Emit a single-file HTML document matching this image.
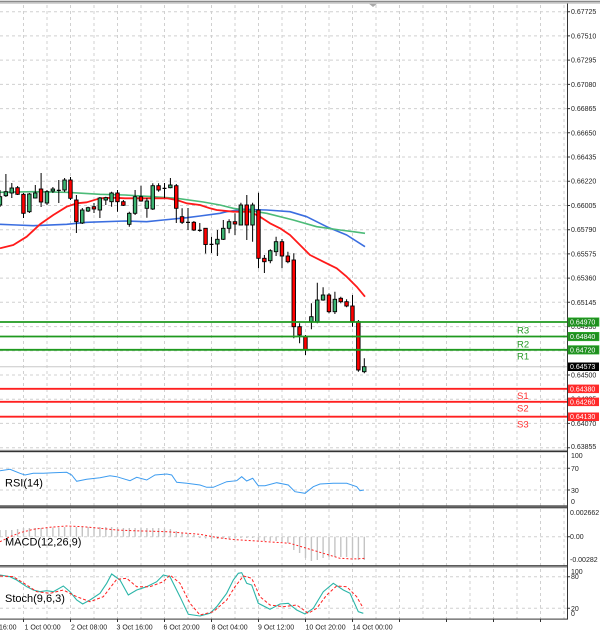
<!DOCTYPE html>
<html><head><meta charset="utf-8"><style>
html,body{margin:0;padding:0;background:#fff;}
svg{display:block;}
text{font-family:"Liberation Sans",sans-serif;}
</style></head><body>
<svg width="600" height="635" viewBox="0 0 600 635" xmlns="http://www.w3.org/2000/svg">
<rect x="0" y="0" width="600" height="635" fill="#fff"/>
<!-- grid -->
<g stroke="#d0d0d0" stroke-width="1" stroke-dasharray="3,3" fill="none">
<path d="M23.5 5V619M47 5V619M70.5 5V619M94 5V619M117.5 5V619M141 5V619M164.5 5V619M188 5V619M211.5 5V619M235 5V619M258.5 5V619M282 5V619M305.5 5V619M329 5V619M352.5 5V619M376 5V619M399.5 5V619M423 5V619M446.5 5V619M470 5V619M493.5 5V619M517 5V619M540.5 5V619M564 5V619"/>
<path d="M0 11.7H567M0 35.9H567M0 60.1H567M0 84.4H567M0 108.6H567M0 132.8H567M0 157H567M0 181.2H567M0 205.5H567M0 229.7H567M0 253.9H567M0 278.1H567M0 302.3H567M0 326.6H567M0 350.8H567M0 375H567M0 399.2H567M0 423.4H567M0 447.7H567"/>
<path d="M0 468.3H567M0 490H567M0 536.7H567M0 576.7H567M0 608.3H567"/>
</g>
<!-- current price line -->
<line x1="0" y1="366.7" x2="567" y2="366.7" stroke="#c8c8c8" stroke-width="1"/>
<!-- MAs -->
<g fill="none" stroke-width="1.6" stroke-linejoin="round">
<polyline stroke="#3b6ee0" points="0,224.3 16.7,225 33.3,225.7 66.7,224.3 86.7,222.3 125,221 146.7,221.7 163.3,220 186.7,217.7 200,216 220,213.3 226.7,211.7 243.3,209.3 266.7,210 290,211.7 306.7,216.7 326.7,226.7 346.7,235 365,246.7"/>
<polyline stroke="#4cbb78" points="0,192.3 33.3,191.7 66.7,192.3 100,194.3 125,195 153.3,196.7 176.7,198.3 203.3,202 220,205 233.3,208.3 245,210 266.7,213.3 293.3,220 316.7,226.7 340,230 353.3,231.7 365,233.3"/>
<polyline stroke="#ff1a1a" stroke-width="1.8" points="0,248.3 13.3,245 26.7,236.7 40,224.3 53.3,215 66.7,206.7 76.7,203.3 86.7,202.3 100,198.3 113.3,197.7 125,198.3 136.7,198.3 153.3,198.3 166.7,198.3 176.7,200 186.7,203.3 200,205 210,208.3 216.7,210 233.3,211.7 250,211.7 260,216.7 270,223.3 280,228.3 290,235 300,245 310,255 323.3,261.7 336.7,268.3 346.7,276.7 356.7,286.7 365,296.7"/>
</g>
<!-- candles wicks -->
<g stroke="#000" stroke-width="1">
<path d="M0 190V207M5.9 174V197M11.8 183V198M17.6 186V195M23.5 193V218M29.4 193V213M35.3 185V198.5M41.1 173V207M47 190V205M52.9 187V193M58.8 180V203M64.6 178V192M70.5 177V200M76.4 195V233M82.3 208V224M88.1 206.7V212M94 203V213M99.9 197V218M105.8 196.7V205M111.6 191.7V206.7M117.5 190V211.7M123.4 200V206M129.3 211.7V226.7M135.1 190V215M141 185.7V201.7M146.9 198V217.7M152.8 183.3V210M158.6 183.3V191.7M164.5 183V198M170.4 178V188.3M176.3 184V223M182.1 208.3V224M188 208V230M193.9 221V231M199.8 223V231.7M205.6 228V253.5M211.5 236.7V253M217.4 230V256M223.3 220V240M229.1 219.3V233.3M235 213.3V235M240.9 202.7V225M246.8 195V240M252.6 202.7V241.7M258.5 192.7V268.3M264.4 255V273M270.3 249.3V263.3M276.1 236.7V256M282 239V268.3M287.9 251.7V263.3M293.8 253.3V338.3M299.6 323.3V343.3M305.5 335V355M311.4 303.3V329.3M317.3 282.7V323.3M323.1 287.3V300.7M329 293.3V313.3M334.9 291.7V314M340.8 296.7V303.3M346.6 299.3V307.3M352.5 295V326.7M358.4 320V371.7M364.3 358.3V373.3"/>
</g>
<!-- candle bodies -->
<g stroke="#000" stroke-width="0.9">
<g fill="#3cb371">
<rect x="-1.8" y="196.7" width="3.5" height="8.3"/>
<rect x="4.1" y="191.7" width="3.5" height="4"/>
<rect x="10" y="188" width="3.5" height="5"/>
<rect x="27.6" y="194" width="3.5" height="17.7"/>
<rect x="33.5" y="193" width="3.5" height="5"/>
<rect x="45.2" y="191.7" width="3.5" height="11.3"/>
<rect x="51.1" y="189" width="3.5" height="2"/>
<rect x="62.8" y="180" width="3.5" height="10"/>
<rect x="80.5" y="210" width="3.5" height="13"/>
<rect x="86.3" y="207.7" width="3.5" height="3.3"/>
<rect x="98.1" y="198" width="3.5" height="12"/>
<rect x="104" y="197.7" width="3.5" height="2.3"/>
<rect x="109.8" y="193" width="3.5" height="8.7"/>
<rect x="127.5" y="213.3" width="3.5" height="11"/>
<rect x="133.3" y="196.7" width="3.5" height="16.6"/>
<rect x="145.1" y="201" width="3.5" height="7.3"/>
<rect x="151" y="185.7" width="3.5" height="23.3"/>
<rect x="168.6" y="185" width="3.5" height="2.7"/>
<rect x="215.6" y="239.3" width="3.5" height="4.7"/>
<rect x="221.5" y="228.3" width="3.5" height="11"/>
<rect x="227.3" y="221.7" width="3.5" height="6.6"/>
<rect x="239.1" y="205" width="3.5" height="20"/>
<rect x="250.8" y="205" width="3.5" height="20"/>
<rect x="268.5" y="250.7" width="3.5" height="10"/>
<rect x="274.3" y="241.7" width="3.5" height="10"/>
<rect x="309.6" y="316.7" width="3.5" height="5"/>
<rect x="315.5" y="300" width="3.5" height="21.7"/>
<rect x="321.3" y="295" width="3.5" height="5"/>
<rect x="333.1" y="299.3" width="3.5" height="12.4"/>
<rect x="362.5" y="366.7" width="3.5" height="5"/>
</g>
<g fill="#ff0000">
<rect x="15.8" y="187.7" width="3.5" height="6.6"/>
<rect x="21.7" y="194.3" width="3.5" height="19"/>
<rect x="39.3" y="189" width="3.5" height="13"/>
<rect x="68.7" y="180" width="3.5" height="18.3"/>
<rect x="74.6" y="200" width="3.5" height="21.7"/>
<rect x="92.2" y="206.7" width="3.5" height="2.3"/>
<rect x="115.7" y="193" width="3.5" height="8.7"/>
<rect x="121.6" y="201.7" width="3.5" height="3.6"/>
<rect x="139.2" y="196.7" width="3.5" height="4.3"/>
<rect x="156.8" y="185.7" width="3.5" height="4.3"/>
<rect x="174.5" y="185.7" width="3.5" height="22.6"/>
<rect x="180.3" y="216.7" width="3.5" height="5.6"/>
<rect x="192.1" y="222.3" width="3.5" height="7.7"/>
<rect x="203.8" y="228.3" width="3.5" height="16.2"/>
<rect x="233.2" y="221.7" width="3.5" height="2.3"/>
<rect x="245" y="205" width="3.5" height="20"/>
<rect x="256.7" y="210" width="3.5" height="48.3"/>
<rect x="262.6" y="258.3" width="3.5" height="3.4"/>
<rect x="280.2" y="241.7" width="3.5" height="14.3"/>
<rect x="286.1" y="256" width="3.5" height="5.7"/>
<rect x="292" y="260" width="3.5" height="66.7"/>
<rect x="297.8" y="326.7" width="3.5" height="8.3"/>
<rect x="303.7" y="336.7" width="3.5" height="13.3"/>
<rect x="327.2" y="295" width="3.5" height="16.7"/>
<rect x="339" y="298.3" width="3.5" height="3.4"/>
<rect x="344.8" y="301.7" width="3.5" height="4.3"/>
<rect x="350.7" y="306" width="3.5" height="15.7"/>
<rect x="356.6" y="321.7" width="3.5" height="48.3"/>
</g>
</g>
<!-- dojis -->
<g stroke="#000" stroke-width="1.2">
<path d="M56.8 190.4H60.8M162.5 188.4H166.5M186 222.4H190M197.8 230.4H201.8M209.5 244.4H213.5"/>
</g>
<!-- S/R lines -->
<g stroke-width="1.8">
<line x1="0" y1="322" x2="567" y2="322" stroke="#1f9a1f"/>
<line x1="0" y1="336.5" x2="567" y2="336.5" stroke="#1f9a1f"/>
<line x1="0" y1="349.8" x2="567" y2="349.8" stroke="#1f9a1f"/>
<line x1="0" y1="388.8" x2="567" y2="388.8" stroke="#ff2020"/>
<line x1="0" y1="401.8" x2="567" y2="401.8" stroke="#ff2020"/>
<line x1="0" y1="416.7" x2="567" y2="416.7" stroke="#ff2020"/>
</g>
<g font-size="9.5">
<text x="517" y="333.5" fill="#2a9a2a">R3</text>
<text x="517" y="347.5" fill="#2a9a2a">R2</text>
<text x="517" y="359.5" fill="#2a9a2a">R1</text>
<text x="517" y="399" fill="#ff3030">S1</text>
<text x="517" y="411.5" fill="#ff3030">S2</text>
<text x="517" y="427.5" fill="#ff3030">S3</text>
</g>
<!-- RSI -->
<polyline fill="none" stroke="#3d9cf0" stroke-width="1" points="0,470.7 10,469.3 20,473.3 25,475 33.3,473.3 43.3,473.3 53.3,472.7 66.7,472.3 71.7,475 76.7,481.3 86.7,479.3 100,477.7 110,475.7 116.7,476.7 130,480.7 136.7,477.3 146.7,480 155,475 166.7,474 171.7,475 176.7,482.3 186.7,483.3 200,485 206.7,487.3 213.3,487.3 226.7,481.7 236.7,480.7 241.7,476.7 246.7,481 252.7,478.3 258.3,485.7 265,485.7 276.7,482.7 288.3,485 295,491.7 305,493.3 313.3,486.7 320,484 333.3,483.3 346.7,483.3 356.7,486.7 360,490.7 364,490"/>
<!-- MACD histogram -->
<g stroke="#c4c4c4" stroke-width="1.4">
<path d="M0 536.7V530M5.9 536.7V530M11.8 536.7V530M17.6 536.7V529M23.5 536.7V528M29.4 536.7V528M35.3 536.7V528M41.1 536.7V528M47 536.7V527.5M52.9 536.7V527.5M58.8 536.7V527.5M64.6 536.7V527M70.5 536.7V527M76.4 536.7V527M82.3 536.7V527M88.1 536.7V527M94 536.7V527M99.9 536.7V527M105.8 536.7V527M111.6 536.7V527M117.5 536.7V527.5M123.4 536.7V528M129.3 536.7V528M135.1 536.7V528M141 536.7V528M146.9 536.7V528M152.8 536.7V528M158.6 536.7V528M164.5 536.7V528.5M170.4 536.7V529M176.3 536.7V531M182.1 536.7V533M188 536.7V534M193.9 536.7V535M199.8 536.7V538M205.6 536.7V538.5M211.5 536.7V539M217.4 536.7V539M223.3 536.7V538.5M229.1 536.7V538.5M235 536.7V538.5M240.9 536.7V538M246.8 536.7V538M252.6 536.7V538M258.5 536.7V540M264.4 536.7V541M270.3 536.7V541M276.1 536.7V541M282 536.7V542M287.9 536.7V543M293.8 536.7V550M299.6 536.7V553M305.5 536.7V558M311.4 536.7V561M317.3 536.7V560M323.1 536.7V558M329 536.7V557M334.9 536.7V557M340.8 536.7V557M346.6 536.7V557M352.5 536.7V558M358.4 536.7V560M364.3 536.7V560"/>
</g>
<polyline fill="none" stroke="#ff2020" stroke-width="1" stroke-dasharray="2,2" points="0,541.7 10,536.7 20,532.7 33.3,529.3 50,527.3 66.7,526 83.3,526.7 100,528.3 116.7,530 133.3,530.7 166.7,531.7 200,534.3 216.7,537.5 233.3,539.5 266.7,541.7 290,543.3 306.7,548.3 323.3,553.3 340,558.3 353.3,559 365,558.3"/>
<!-- Stoch -->
<polyline fill="none" stroke="#2bb5a8" stroke-width="1.1" points="0,575 10,576.7 16.7,580 26.7,586.7 33.3,590 40,591.7 46.7,590.7 53.3,591.7 63.3,586 70,591.7 76.7,600 82.7,604 90,600 100,593.3 106.7,583.3 111.7,574 120,580 128.3,595 136.7,590 146.7,586.7 156.7,581.7 163.3,575 170,576.7 180,596.7 188.3,614.3 200,616 210,613.3 216.7,606.7 226.7,593.3 233.3,580 238.3,573.3 241.7,572.7 246.7,583.3 251.7,585 258.3,603.3 270,609.3 280,604 288.3,603.3 296.7,610 305,614 313.3,608.3 323.3,591.7 333.3,583.3 343.3,590 350,593.3 358.3,611.7 363.3,613.3"/>
<polyline fill="none" stroke="#ff2020" stroke-width="1" stroke-dasharray="3,2" points="0,576 13.3,576.7 26.7,585 36.7,591.7 50,593.3 63.3,590 76.7,596.7 90,601.7 103.3,596.7 116.7,579.3 126.7,578.3 136.7,586.7 150,586.7 163.3,581.7 170,575 180,583.3 190,603.3 200,615 213.3,611.7 226.7,600 235,586.7 243.3,576 251.7,578.3 260,596.7 270,605 283.3,606.7 296.7,605 308.3,613.3 316.7,608.3 326.7,595 336.7,586 346.7,586.7 356.7,596.7 363.3,608.3"/>
<!-- borders -->
<rect x="0" y="0" width="600" height="1" fill="#dcdcdc"/>
<rect x="0" y="1" width="600" height="1.3" fill="#8a8a8a"/>
<rect x="0" y="2.3" width="600" height="1.5" fill="#c8c8c8"/>
<polygon points="369,3.8 377,3.8 373,7" fill="#a8a8a8"/>
<rect x="0" y="449.8" width="568" height="1" fill="#a0a0a0"/>
<rect x="0" y="450.8" width="568" height="1.4" fill="#333"/>
<rect x="0" y="505.4" width="568" height="1.1" fill="#333"/>
<rect x="0" y="506.5" width="568" height="0.7" fill="#999"/>
<rect x="0" y="507.2" width="568" height="1.1" fill="#333"/>
<rect x="0" y="565.2" width="568" height="1.2" fill="#333"/>
<rect x="0" y="566.4" width="568" height="1.3" fill="#a0a0a0"/>
<rect x="0" y="618.6" width="568" height="1" fill="#333"/>
<line x1="567.5" y1="3.5" x2="567.5" y2="619.5" stroke="#333" stroke-width="1"/>
<!-- axis ticks -->
<g stroke="#333" stroke-width="1">
<path d="M567 11.7H570M567 35.9H570M567 60.1H570M567 84.4H570M567 108.6H570M567 132.8H570M567 157H570M567 181.2H570M567 205.5H570M567 229.7H570M567 253.9H570M567 278.1H570M567 302.3H570M567 326.6H570M567 350.8H570M567 375H570M567 399.2H570M567 423.4H570M567 447.7H570"/>
<path d="M567 468.3H570M567 490H570M567 536.7H570M567 576.7H570M567 608.3H570"/>
<path d="M23.5 619V622M70.5 619V622M117.5 619V622M164.5 619V622M211.5 619V622M258.5 619V622M305.5 619V622M352.5 619V622M399.5 619V622M446.5 619V622M493.5 619V622M540.5 619V622"/>
</g>
<!-- axis labels -->
<g font-size="7" fill="#222">
<text x="571" y="14.2">0.67725</text>
<text x="571" y="38.4">0.67510</text>
<text x="571" y="62.6">0.67295</text>
<text x="571" y="86.9">0.67080</text>
<text x="571" y="111.1">0.66865</text>
<text x="571" y="135.3">0.66650</text>
<text x="571" y="159.5">0.66435</text>
<text x="571" y="183.7">0.66220</text>
<text x="571" y="208">0.66005</text>
<text x="571" y="232.2">0.65790</text>
<text x="571" y="256.4">0.65575</text>
<text x="571" y="280.6">0.65360</text>
<text x="571" y="304.8">0.65145</text>
<text x="571" y="329.1">0.64930</text>
<text x="571" y="353.3">0.64715</text>
<text x="571" y="377.5">0.64500</text>
<text x="571" y="401.7">0.64285</text>
<text x="571" y="425.9">0.64070</text>
<text x="571" y="449.2">0.63855</text>
<text x="571" y="458.2">100</text>
<text x="571" y="471.2">70</text>
<text x="571" y="493.2">30</text>
<text x="571" y="504.2">0</text>
<text x="570" y="515.2">0.002662</text>
<text x="570" y="539.2">0.00</text>
<text x="570" y="561.8">-0.00282</text>
<text x="571" y="574.2">100</text>
<text x="571" y="579.2">80</text>
<text x="571" y="610.8">20</text>
<text x="571" y="615.8">0</text>
</g>
<!-- price tags -->
<g font-size="7" fill="#fff">
<rect x="568" y="317.8" width="31" height="8.5" fill="#1f8f1f" stroke="#2fb02f" stroke-width="0.6"/>
<text x="570" y="324.5">0.64970</text>
<rect x="568" y="332.3" width="31" height="8.5" fill="#1f8f1f" stroke="#2fb02f" stroke-width="0.6"/>
<text x="570" y="339">0.64840</text>
<rect x="568" y="345.6" width="31" height="8.5" fill="#1f8f1f" stroke="#2fb02f" stroke-width="0.6"/>
<text x="570" y="352.3">0.64720</text>
<rect x="568" y="362.5" width="31" height="8.5" fill="#000"/>
<text x="570" y="369.2">0.64573</text>
<rect x="568" y="384.6" width="31" height="8.5" fill="#ff2a2a"/>
<text x="570" y="391.3">0.64380</text>
<rect x="568" y="397.6" width="31" height="8.5" fill="#ff2a2a"/>
<text x="570" y="404.3">0.64260</text>
<rect x="568" y="412.5" width="31" height="8.5" fill="#ff2a2a"/>
<text x="570" y="419.2">0.64130</text>
</g>
<!-- date labels -->
<g font-size="7" fill="#222">
<text x="16.5" y="629.5" text-anchor="end">16:00</text>
<text x="24.5" y="629.5">1 Oct 00:00</text>
<text x="71" y="629.5">2 Oct 08:00</text>
<text x="116.5" y="629.5">3 Oct 16:00</text>
<text x="163.5" y="629.5">6 Oct 20:00</text>
<text x="211.5" y="629.5">8 Oct 04:00</text>
<text x="258" y="629.5">9 Oct 12:00</text>
<text x="305.5" y="629.5">10 Oct 20:00</text>
<text x="352.5" y="629.5">14 Oct 00:00</text>
</g>
<!-- indicator names -->
<g font-size="11" fill="#000">
<text x="5" y="486.5">RSI(14)</text>
<text x="5" y="545.3">MACD(12,26,9)</text>
<text x="5" y="602">Stoch(9,6,3)</text>
</g>
</svg>
</body></html>
